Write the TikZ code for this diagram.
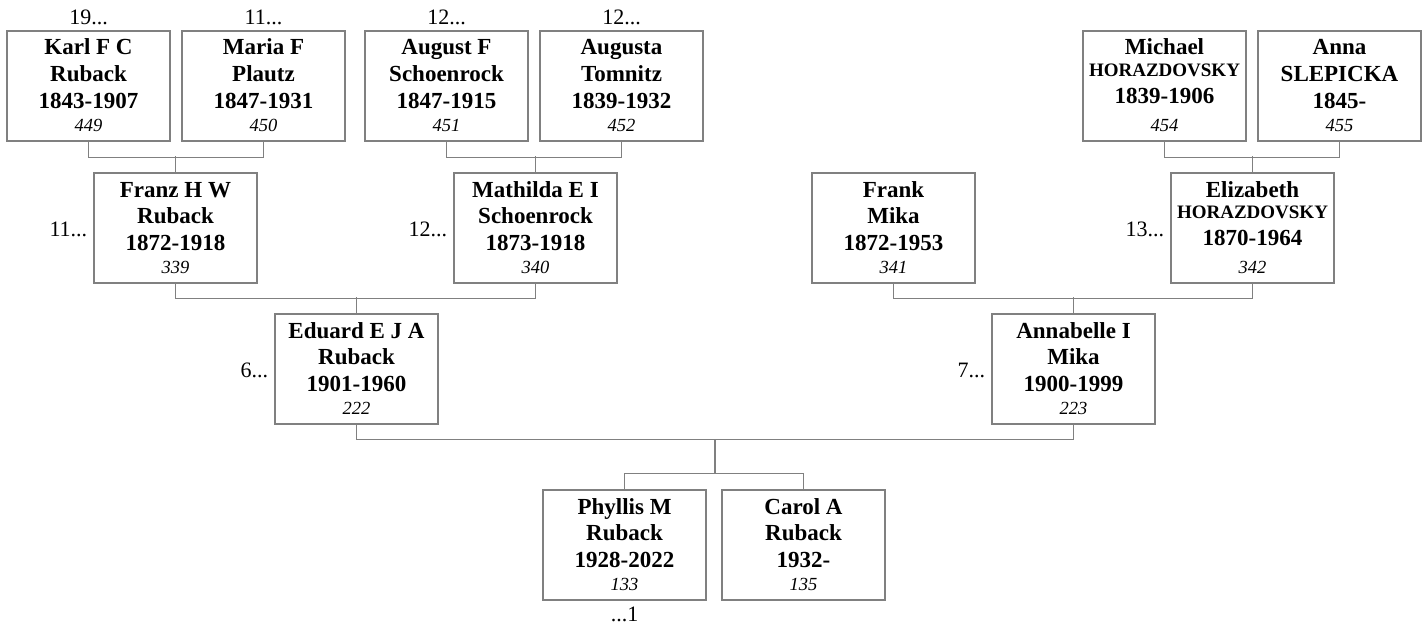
\documentclass[tikz,border=0pt]{standalone}
\usepackage{fontspec}
\setmainfont{Liberation Serif}
\usetikzlibrary{calc}
\definecolor{boxgray}{HTML}{808080}
\tikzset{
  pbox/.style={draw=boxgray, line width=1.2pt, rectangle, minimum width=163pt, minimum height=110pt, inner sep=0pt},
  nm/.style={font=\fontsize{23}{23}\selectfont\bfseries, anchor=base, inner sep=0pt},
  nmsmall/.style={font=\fontsize{19}{19}\selectfont\bfseries, anchor=base, inner sep=0pt},
  num/.style={font=\fontsize{18.5}{18.5}\selectfont\itshape, anchor=base, inner sep=0pt},
  outer/.style={font=\fontsize{22}{22}\selectfont, inner sep=0pt},
  conn/.style={draw=boxgray, line width=1.2pt}
}
\newcommand\person[7]{%
  \node[pbox] (#1) at ({#2+81.5},{#3+55}) {};
  \node[nm] (#1-a) at ({#2+81.5},{#3+24}) {#4};
  \node[nm] (#1-b) at ({#2+81.5},{#3+50.5}) {#5};
  \node[nm] (#1-c) at ({#2+81.5},{#3+77}) {#6};
  \node[num] (#1-d) at ({#2+81.5},{#3+100}) {#7};}
\newcommand\personH[7]{%
  \node[pbox] (#1) at ({#2+81.5},{#3+55}) {};
  \node[nm] (#1-a) at ({#2+81.5},{#3+24}) {#4};
  \node[nmsmall] (#1-b) at ({#2+81.5},{#3+45.5}) {#5};
  \node[nm] (#1-c) at ({#2+81.5},{#3+72}) {#6};
  \node[num] (#1-d) at ({#2+81.5},{#3+100}) {#7};}
\begin{document}
\begin{tikzpicture}[x=1pt,y=-1pt]
\useasboundingbox (0,0) rectangle (1424,626);
% generation 1
\person{karl}{7}{31}{Karl F C}{Ruback}{1843-1907}{449}
\person{maria}{182}{31}{Maria F}{Plautz}{1847-1931}{450}
\person{august}{365}{31}{August F}{Schoenrock}{1847-1915}{451}
\person{augusta}{540}{31}{Augusta}{Tomnitz}{1839-1932}{452}
\personH{michael}{1083}{31}{Michael}{HORAZDOVSKY}{1839-1906}{454}
\person{anna}{1258}{31}{Anna}{SLEPICKA}{1845-}{455}
% generation 2
\person{franz}{94}{173}{Franz H W}{Ruback}{1872-1918}{339}
\person{mathilda}{454}{173}{Mathilda E I}{Schoenrock}{1873-1918}{340}
\person{frank}{812}{173}{Frank}{Mika}{1872-1953}{341}
\personH{elizabeth}{1171}{173}{Elizabeth}{HORAZDOVSKY}{1870-1964}{342}
% generation 3
\person{eduard}{275}{314}{Eduard E J A}{Ruback}{1901-1960}{222}
\person{annabelle}{992}{314}{Annabelle I}{Mika}{1900-1999}{223}
% generation 4
\person{phyllis}{543}{490}{Phyllis M}{Ruback}{1928-2022}{133}
\person{carol}{722}{490}{Carol A}{Ruback}{1932-}{135}
% outer labels
\node[outer, anchor=base] (l1) at ($(karl.north)+(0,-6)$) {19...};
\node[outer, anchor=base] (l2) at ($(maria.north)+(0,-6)$) {11...};
\node[outer, anchor=base] (l3) at ($(august.north)+(0,-6)$) {12...};
\node[outer, anchor=base] (l4) at ($(augusta.north)+(0,-6)$) {12...};
\node[outer, anchor=base east] (l5) at ($(franz.north west)+(-6,64)$) {11...};
\node[outer, anchor=base east] (l6) at ($(mathilda.north west)+(-6,64)$) {12...};
\node[outer, anchor=base east] (l7) at ($(elizabeth.north west)+(-6,64)$) {13...};
\node[outer, anchor=base east] (l8) at ($(eduard.north west)+(-6,64)$) {6...};
\node[outer, anchor=base east] (l9) at ($(annabelle.north west)+(-6,64)$) {7...};
\node[outer, anchor=base] (l10) at ($(phyllis.south)+(0,21)$) {...1};
% connectors
\draw[conn] (karl.south) -- ++(0,16) -| (maria.south);
\draw[conn] (franz.north) -- ++(0,-16);
\draw[conn] (august.south) -- ++(0,16) -| (augusta.south);
\draw[conn] (mathilda.north) -- ++(0,-16);
\draw[conn] (michael.south) -- ++(0,16) -| (anna.south);
\draw[conn] (elizabeth.north) -- ++(0,-16);
\draw[conn] (franz.south) -- ++(0,15) -| (mathilda.south);
\draw[conn] (eduard.north) -- ++(0,-16);
\draw[conn] (frank.south) -- ++(0,15) -| (elizabeth.south);
\draw[conn] (annabelle.north) -- ++(0,-16);
\draw[conn] (eduard.south) -- ++(0,15) -| (annabelle.south);
\coordinate (mid) at (715,439);
\coordinate (kids) at (715,474);
\draw[conn] (phyllis.north) -- ++(0,-16) -| (carol.north);
\draw[conn] (mid) -- (kids);
\end{tikzpicture}
\end{document}
